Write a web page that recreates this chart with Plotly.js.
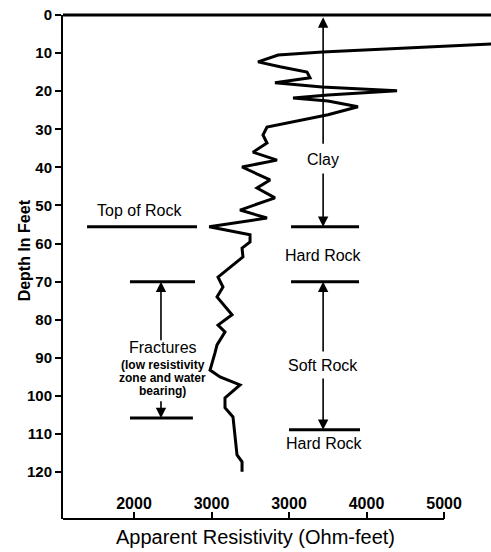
<!DOCTYPE html>
<html>
<head>
<meta charset="utf-8">
<script src="https://cdn.plot.ly/plotly-3.0.1.min.js"></script>
<style>html,body{margin:0;padding:0;background:#fff;}#chart{width:491px;height:552px;}</style>
</head>
<body>
<div id="chart"></div>
<script>
// Resistivity log: depth (ft) and apparent resistivity (ohm-feet)
const depthFt = [7.5, 8.7, 9.7, 10.5, 12.3, 13.6, 15.0, 16.5, 17.8, 18.9, 19.9, 21.0, 21.8, 22.6, 24.1, 26.2,
  29.4, 31.5, 33.6, 36.0, 38.1, 39.9, 43.3, 45.4, 48.0, 51.2, 53.3, 55.6, 57.7, 59.6, 61.2, 63.5,
  68.8, 71.4, 74.0, 78.7, 81.4, 83.2, 86.6, 88.7, 93.2, 95.0, 97.1, 100.5, 103.1, 105.5, 110.2, 115.5, 117.3, 119.9];
const resistivity = [5700, 4500, 3430, 2860, 2600, 2884, 3232, 3271, 2819, 3426, 4394, 3503, 3052, 3503, 3890, 3503,
  2716, 2664, 2716, 2535, 2845, 2394, 2755, 2587, 2819, 2368, 2716, 1970, 2497, 2497, 2394, 2406,
  2084, 2148, 2071, 2265, 2084, 2174, 2071, 2045, 1981, 2110, 2368, 2174, 2174, 2277, 2303, 2329, 2394, 2394];

// Tick values and the labels printed on the original axis
const xTickVals = [1000, 2000, 3000, 4000, 5000];
const xTickText = ['2000', '3000', '3000', '4000', '5000'];
const yTickVals = [0, 10, 20, 30, 40, 50, 60, 70, 80, 90, 100, 110, 120];

// Boundary markers: depth, from resistivity, to resistivity
const boundaryDepth = [55.6, 55.6, 70, 108.9, 70, 105.8];
const boundaryFrom  = [394, 3026, 3026, 3000, 948, 948];
const boundaryTo    = [1813, 3903, 3903, 3916, 1787, 1760];

// Zone labels
const labelText  = ['Top of Rock', 'Clay', 'Hard Rock', 'Soft Rock', 'Hard Rock', 'Fractures'];
const labelX     = [1077, 3440, 3440, 3440, 3464, 1374];
const labelDepth = [51.4, 37.8, 63.0, 92.1, 112.6, 87.4];
const noteText   = ['(low resistivity', 'zone and water', 'bearing)'];
const noteDepth  = [91.9, 95.3, 98.7];
const noteX      = 1374;

// Arrows: x, head depth, tail depth
const arrowX    = [3440, 3440, 3440, 3440, 1348, 1348];
const arrowHead = [0.6, 55.6, 70, 108.9, 70, 105.8];
const arrowTail = [34.2, 41.2, 88.7, 95.0, 85.8, 101.0];

const bx = [], by = [];
boundaryDepth.forEach((d, i) => { bx.push(boundaryFrom[i], boundaryTo[i], null); by.push(d, d, null); });

const font = 'Liberation Sans, Arial, Helvetica, sans-serif';

const traces = [
  {x: resistivity, y: depthFt, type: 'scatter', mode: 'lines',
   line: {color: '#000', width: 3}, hoverinfo: 'skip', showlegend: false},
  {x: bx, y: by, type: 'scatter', mode: 'lines',
   line: {color: '#000', width: 3}, hoverinfo: 'skip', showlegend: false}
];

const annotations = [];
labelText.forEach((t, i) => annotations.push({
  x: labelX[i], y: labelDepth[i], xref: 'x', yref: 'y', text: t, showarrow: false,
  font: {family: font, size: 16, color: '#000'}
}));
noteText.forEach((t, i) => annotations.push({
  x: noteX, y: noteDepth[i], xref: 'x', yref: 'y', text: t, showarrow: false,
  font: {family: font, size: 12, color: '#000', weight: 'bold'}
}));
arrowX.forEach((x, i) => annotations.push({
  x: x, y: arrowHead[i], xref: 'x', yref: 'y', ax: x, ay: arrowTail[i], axref: 'x', ayref: 'y',
  text: '', showarrow: true, arrowhead: 2, arrowsize: 1.3, arrowwidth: 1.6, arrowcolor: '#000', standoff: 0, startstandoff: 0
}));
annotations.push({
  x: -0.1145, y: 0.534, xref: 'paper', yref: 'paper', text: 'Depth In Feet', textangle: -90,
  showarrow: false, font: {family: font, size: 16, color: '#000', weight: 'bold'}
});
annotations.push({
  x: 0.45, y: -0.036, xref: 'paper', yref: 'paper', text: 'Apparent Resistivity (Ohm-feet)',
  showarrow: false, yanchor: 'middle', font: {family: font, size: 20, color: '#000'}
});

const layout = {
  width: 491, height: 552,
  margin: {l: 63, r: 0, t: 15, b: 33},
  paper_bgcolor: '#fff', plot_bgcolor: '#fff',
  showlegend: false,
  xaxis: {
    range: [84, 5606], tickvals: xTickVals, ticktext: xTickText,
    ticks: 'inside', ticklen: 7, tickwidth: 2, tickcolor: '#000',
    ticklabelposition: 'inside', showgrid: false, zeroline: false, showline: false,
    tickfont: {family: font, size: 16, color: '#000', weight: 'bold'}
  },
  yaxis: {
    range: [132.3, 0], tickvals: yTickVals,
    ticks: 'outside', ticklen: 6, tickwidth: 2, tickcolor: '#000',
    showline: true, linewidth: 2, linecolor: '#000', showgrid: false, zeroline: false,
    tickfont: {family: font, size: 15, color: '#000', weight: 'bold'}
  },
  shapes: [
    {type: 'line', xref: 'paper', yref: 'paper', x0: 0, x1: 1, y0: 1, y1: 1, line: {color: '#000', width: 3}},
    {type: 'line', xref: 'x', yref: 'paper', x0: 84, x1: 5000, y0: 0, y1: 0, line: {color: '#000', width: 2}}
  ],
  annotations: annotations
};

Plotly.newPlot('chart', traces, layout, {staticPlot: true, displayModeBar: false});
</script>
</body>
</html>
